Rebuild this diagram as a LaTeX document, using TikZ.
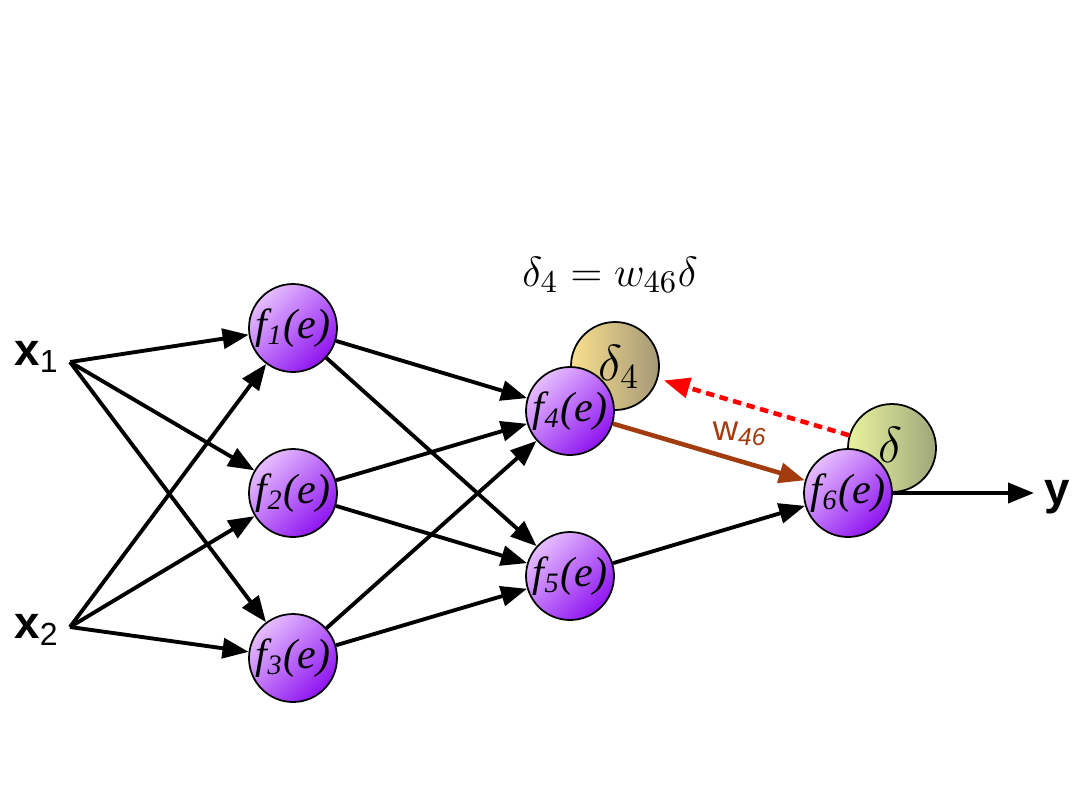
\documentclass[tikz,border=0pt]{standalone}
\usepackage{fontspec}
\newfontfamily\labfont{Liberation Sans}
\newfontfamily\serfont{Liberation Serif}
\usetikzlibrary{arrows.meta}
\definecolor{plight}{HTML}{E6BEFF}
\definecolor{pdark}{HTML}{8E14F0}
\definecolor{ylight}{HTML}{FAE08E}
\definecolor{ydark}{HTML}{A49878}
\definecolor{glight}{HTML}{E8F49E}
\definecolor{gdark}{HTML}{A0A67C}
\definecolor{brownarr}{HTML}{A23C0E}
\newcommand{\fe}[1]{{\serfont\itshape f\textsubscript{#1}(e)}}
\tikzset{
  neuron/.style={circle, draw=black, line width=0.5pt, minimum size=0.88cm, inner sep=0pt,
    left color=plight, right color=pdark, shading angle=45},
  ntext/.style={font=\fontsize{12}{14}\selectfont, inner sep=0pt},
  dball/.style={circle, draw=black, line width=0.5pt, minimum size=0.88cm, inner sep=0pt,
    shading angle=45},
  conn/.style={line width=1.1pt, -{Triangle[length=0.26cm, width=0.2cm]}},
  inlab/.style={font=\labfont\bfseries\fontsize{13}{15}\selectfont, inner sep=0pt}
}
\begin{document}
\begin{tikzpicture}[x=1cm,y=1cm]
\useasboundingbox (0,0) rectangle (10.8,8.1);
% delta balls (behind)
\node[dball, left color=ylight, right color=ydark] (d4) at (6.15,4.44) {};
\node[dball, left color=glight, right color=gdark] (d) at (8.92,3.62) {};
% neurons
\node[neuron] (f1) at (2.93,4.82) {};
\node[neuron] (f2) at (2.93,3.17) {};
\node[neuron] (f3) at (2.93,1.52) {};
\node[neuron] (f4) at (5.70,3.99) {};
\node[neuron] (f5) at (5.70,2.34) {};
\node[neuron] (f6) at (8.48,3.17) {};
\node[ntext] (t1) at (f1) {\fe{1}};
\node[ntext] (t2) at (f2) {\fe{2}};
\node[ntext] (t3) at (f3) {\fe{3}};
\node[ntext] (t4) at (f4) {\fe{4}};
\node[ntext] (t5) at (f5) {\fe{5}};
\node[ntext] (t6) at (f6) {\fe{6}};
\node[inner sep=0pt] (td4) at (6.19,4.43) {\fontsize{14}{16}\selectfont$\delta_4$};
\node[inner sep=0pt] (td) at (8.90,3.65) {\fontsize{14}{16}\selectfont$\delta$};
% inputs
\node[inlab, anchor=east] (x1) at (0.60,4.53) {x\textsubscript{\mdseries 1}};
\node[inlab, anchor=east] (x2) at (0.60,1.80) {x\textsubscript{\mdseries 2}};
\coordinate (p1) at (0.70,4.48);
\coordinate (p2) at (0.70,1.83);
\node[inlab, anchor=west] (y) at (10.44,3.13) {y};
\coordinate (yend) at (10.34,3.17);
% equation
\node (eq) at (6.10,5.35) {\fontsize{12.5}{15}\selectfont$\delta_4 = w_{46}\delta$};
% w46 label
\node[text=brownarr, font=\labfont\fontsize{10}{12}\selectfont] (w) at (7.40,3.76) {w\textsubscript{\itshape 46}};
% connectors
\foreach \s in {p1,p2}{
  \foreach \t in {f1,f2,f3}{
    \draw[conn] (\s) -- (\t);
  }
}
\foreach \s in {f1,f2,f3}{
  \foreach \t in {f4,f5}{
    \draw[conn] (\s) -- (\t);
  }
}
\draw[conn] (f5) -- (f6);
\draw[conn, draw=brownarr, fill=brownarr, line width=1.3pt] (f4) -- (f6);
\draw[conn] (f6) -- (yend);
\draw[conn, draw=red, fill=red, dash pattern=on 2.4pt off 1.6pt, line width=1.3pt, shorten >=0.06cm] (d) -- (d4);
\end{tikzpicture}
\end{document}
